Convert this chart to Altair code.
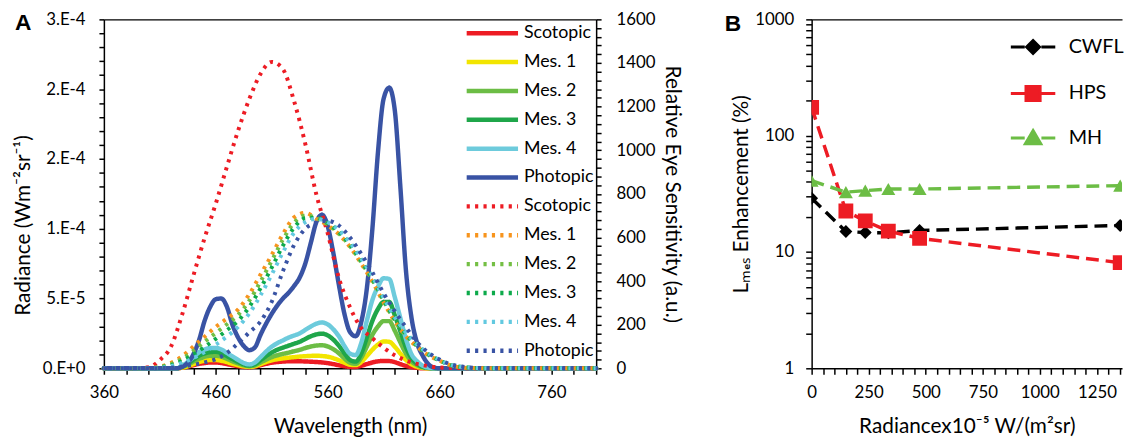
import json
import altair as alt
import pandas as pd

# ---------------- Panel A data ----------------
SERIES = ["Scotopic", "Mes. 1", "Mes. 2", "Mes. 3", "Mes. 4", "Photopic"]
SOLID_COLORS = ["#ED1C24", "#F2E500", "#6CBD45", "#1FA64A", "#6DCBDC", "#3953A4"]
DOTTED_COLORS = ["#ED1C24", "#F7941D", "#74BF44", "#0DAA4B", "#62C9E0", "#3953A4"]

NM_SOLID = [360, 400, 420, 425, 430, 435, 440, 445, 450, 455, 460, 465, 470, 475, 480,
            485, 490, 495, 500, 505, 510, 515, 520, 525, 530, 535, 540, 545, 550, 555,
            560, 565, 570, 575, 580, 585, 590, 595, 600, 605, 610, 615, 620, 625, 630,
            635, 640, 645, 650, 655, 660, 665, 670, 680, 700, 800]

# radiance in units of 1e-5 W m-2 sr-1
RAD_SCOTOPIC = [0, 0, 0,
                0, 0.05, 0.12, 0.22, 0.32, 0.38, 0.42, 0.42, 0.38, 0.30,
                0.22, 0.15, 0.10, 0.08, 0.12, 0.22, 0.32, 0.40, 0.45, 0.48,
                0.50, 0.50, 0.50, 0.49, 0.47, 0.45, 0.42, 0.37, 0.30, 0.22,
                0.15, 0.10, 0.10, 0.18, 0.30, 0.42, 0.50, 0.53, 0.52, 0.44,
                0.30, 0.17, 0.08, 0.03, 0, 0, 0, 0, 0, 0,
                0, 0, 0]
RAD_MES1 = [0, 0, 0,
            0, 0.05, 0.15, 0.30, 0.44, 0.54, 0.59, 0.59, 0.54, 0.44,
            0.32, 0.22, 0.14, 0.10, 0.15, 0.30, 0.45, 0.57, 0.65, 0.71,
            0.76, 0.80, 0.84, 0.87, 0.89, 0.90, 0.88, 0.83, 0.73, 0.58,
            0.40, 0.26, 0.23, 0.45, 0.88, 1.33, 1.70, 1.92, 1.90, 1.55,
            1.06, 0.60, 0.28, 0.11, 0.03, 0, 0, 0, 0, 0,
            0, 0, 0]
RAD_MES2 = [0, 0, 0,
            0, 0.10, 0.25, 0.48, 0.68, 0.82, 0.90, 0.90, 0.83, 0.68,
            0.50, 0.35, 0.22, 0.15, 0.22, 0.42, 0.62, 0.80, 0.93, 1.03,
            1.12, 1.22, 1.32, 1.45, 1.56, 1.63, 1.65, 1.57, 1.37, 1.08,
            0.70, 0.40, 0.32, 0.75, 1.55, 2.40, 3.00, 3.38, 3.38, 2.70,
            1.85, 1.05, 0.50, 0.22, 0.07, 0.02, 0, 0, 0, 0,
            0, 0, 0]
RAD_MES3 = [0, 0, 0,
            0, 0.15, 0.35, 0.62, 0.90, 1.07, 1.16, 1.18, 1.08, 0.88,
            0.66, 0.46, 0.29, 0.20, 0.30, 0.58, 0.88, 1.13, 1.33, 1.48,
            1.62, 1.76, 1.90, 2.10, 2.30, 2.43, 2.48, 2.36, 2.06, 1.62,
            1.08, 0.60, 0.48, 1.05, 2.20, 3.40, 4.25, 4.75, 4.75, 3.80,
            2.65, 1.50, 0.72, 0.32, 0.11, 0.03, 0, 0, 0, 0,
            0, 0, 0]
RAD_MES4 = [0, 0, 0,
            0, 0.20, 0.45, 0.80, 1.15, 1.35, 1.45, 1.46, 1.35, 1.10,
            0.85, 0.60, 0.38, 0.28, 0.42, 0.80, 1.20, 1.55, 1.80, 2.00,
            2.20, 2.35, 2.50, 2.75, 3.00, 3.20, 3.28, 3.15, 2.80, 2.30,
            1.60, 1.05, 0.95, 1.80, 3.40, 4.90, 5.85, 6.45, 6.40, 5.10,
            3.60, 2.10, 1.00, 0.50, 0.18, 0.05, 0, 0, 0, 0,
            0, 0, 0]
RAD_PHOTOPIC = [0, 0, 0,
                0, 0.10, 0.40, 1.00, 2.00, 3.40, 4.40, 4.95, 5.00, 4.40,
                3.10, 2.20, 1.60, 1.30, 1.50, 2.40, 3.20, 3.90, 4.50, 5.00,
                5.40, 5.90, 6.50, 7.50, 9.00, 10.50, 11.00, 10.20, 8.30, 6.00,
                3.90, 2.60, 2.30, 3.30, 5.70, 10.00, 15.50, 19.30, 20.10, 18.50,
                13.00, 7.00, 3.60, 1.80, 0.90, 0.30, 0.05, 0, 0, 0,
                0, 0, 0]
RADIANCE = [RAD_SCOTOPIC, RAD_MES1, RAD_MES2, RAD_MES3, RAD_MES4, RAD_PHOTOPIC]

NM_DOT = [360, 370, 380, 390, 400, 410, 420, 430, 440, 450, 460, 470, 480, 490, 500,
          510, 520, 530, 540, 550, 560, 570, 580, 590, 600, 610, 620, 630, 640, 650,
          660, 670, 680, 690, 700, 710, 720, 730, 740, 750, 760, 770, 780, 790, 800]

SENS_SCOTOPIC = [0, 0, 0, 1, 5, 38, 100, 247, 425, 597,
                 755, 925, 1090, 1235, 1350, 1405, 1372, 1225, 1030, 795,
                 620, 415, 280, 185, 138, 95, 60, 36, 20, 10,
                 4, 2, 1, 0, 0, 0, 0, 0, 0, 0,
                 0, 0, 0, 0, 0]
SENS_MES1 = [0, 0, 0, 0, 2, 8, 25, 55, 100, 145,
             190, 228, 270, 340, 430, 520, 615, 692, 713, 685,
             655, 615, 556, 480, 397, 302, 215, 147, 98, 60,
             35, 13, 4, 1, 0, 0, 0, 0, 0, 0,
             0, 0, 0, 0, 0]
SENS_MES2 = [0, 0, 0, 0, 1.5, 6, 19, 44, 80, 122,
             162, 202, 245, 310, 398, 493, 590, 668, 700, 690,
             660, 618, 560, 486, 404, 308, 220, 152, 101, 62,
             36, 14, 5, 2, 0, 0, 0, 0, 0, 0,
             0, 0, 0, 0, 0]
SENS_MES3 = [0, 0, 0, 0, 1, 4, 14, 34, 63, 98,
             135, 175, 218, 282, 367, 462, 562, 645, 688, 690,
             666, 626, 568, 494, 412, 316, 227, 158, 105, 65,
             37, 15, 6, 2, 0, 0, 0, 0, 0, 0,
             0, 0, 0, 0, 0]
SENS_MES4 = [0, 0, 0, 0, 0.7, 3, 10, 25, 47, 75,
             108, 146, 190, 252, 335, 430, 532, 622, 670, 685,
             670, 634, 577, 503, 421, 324, 235, 164, 109, 68,
             38, 16, 6, 2, 0, 0, 0, 0, 0, 0,
             0, 0, 0, 0, 0]
SENS_PHOTOPIC = [0, 0, 0, 0, 0.3, 1, 3, 8, 16, 27,
                 42, 70, 115, 165, 215, 305, 445, 565, 640, 668,
                 676, 655, 600, 525, 440, 345, 262, 188, 120, 72,
                 40, 18, 8, 3, 1, 0, 0, 0, 0, 0,
                 0, 0, 0, 0, 0]
SENSITIVITY = [SENS_SCOTOPIC, SENS_MES1, SENS_MES2, SENS_MES3, SENS_MES4, SENS_PHOTOPIC]

LEFT_TICK_LABELS = ["0.E+0", "5.E-5", "1.E-4", "2.E-4", "2.E-4", "3.E-4"]

# ---------------- Panel B data ----------------
LAMPS = ["CWFL", "HPS", "MH"]
LAMP_COLORS = ["#000000", "#ED1C24", "#6CBD45"]
LAMP_SHAPES = ["diamond", "square", "triangle-up"]
LAMP_SIZES = [170, 225, 200]
RADIANCE_B = [0, 150, 235, 336, 473, 1352]
ENH_CWFL = [29, 15, 14.7, 14.6, 15.3, 16.9]
ENH_HPS = [175, 22.5, 18.5, 15.1, 13.1, 8.1]
ENH_MH = [41, 32.7, 33.7, 34.8, 34.8, 37.2]
ENHANCEMENT = [ENH_CWFL, ENH_HPS, ENH_MH]

# ---------------- build tables ----------------
solid_keys = ["S|" + s for s in SERIES]
dot_keys = ["D|" + s for s in SERIES]
KEYS = solid_keys + dot_keys
COLORS = SOLID_COLORS + DOTTED_COLORS
DASHES = [[1, 0]] * 6 + [[3.2, 5.3]] * 6

rows = []
for key, vals in zip(solid_keys, RADIANCE):
    for nm, v in zip(NM_SOLID, vals):
        rows.append({"key": key, "nm": nm, "rad": v})
df_solid = pd.DataFrame(rows)

rows = []
for key, vals in zip(dot_keys, SENSITIVITY):
    for nm, v in zip(NM_DOT, vals):
        rows.append({"key": key, "nm": nm, "sens": v})
df_dot = pd.DataFrame(rows)

rows = []
for lamp, vals in zip(LAMPS, ENHANCEMENT):
    for x, v in zip(RADIANCE_B, vals):
        rows.append({"lamp": lamp, "bx": x, "enh": v})
df_b = pd.DataFrame(rows)

FONT = "Lato"

leg_a = alt.Legend(
    title=None, orient="none", legendX=384, legendY=5,
    symbolType="M-5,0H5", symbolSize=108, symbolStrokeWidth=4.5,
    labelFont=FONT, labelFontSize=18, labelColor="#000", labelOffset=23,
    rowPadding=11.2, padding=0, labelExpr="substring(datum.label, 2)",
)

color_a = alt.Color("key:N", scale=alt.Scale(domain=KEYS, range=COLORS), legend=leg_a)
dash_a = alt.StrokeDash("key:N", scale=alt.Scale(domain=KEYS, range=DASHES), legend=leg_a)

x_scale_a = alt.Scale(domain=[360, 800], nice=False, zero=False)

left_expr = ("datum.value % 5 == 0 ? " + json.dumps(LEFT_TICK_LABELS).replace('"', "'")
             + "[round(datum.value / 5)] : ''")

solid = alt.Chart(df_solid).mark_line(
    strokeWidth=4.5, interpolate="monotone", strokeCap="round", strokeJoin="round"
).encode(
    x=alt.X("nm:Q", scale=x_scale_a, axis=alt.Axis(
        orient="bottom", values=list(range(360, 801, 20)),
        labelExpr="(datum.value - 360) % 100 == 0 ? datum.label : ''",
        title="Wavelength (nm)", tickSize=6, labelPadding=11, titlePadding=15,
        labelFlush=False, labelOverlap=False)),
    y=alt.Y("rad:Q", scale=alt.Scale(domain=[0, 25], nice=False), axis=alt.Axis(
        orient="left", values=list(range(0, 26)), labelExpr=left_expr,
        title="Radiance (Wm⁻²sr⁻¹)", tickSize=5, labelPadding=14, titlePadding=9,
        titleY=208, labelFlush=False, labelOverlap=False)),
    color=color_a,
    strokeDash=dash_a,
)

dotted = alt.Chart(df_dot).mark_line(
    strokeWidth=4, interpolate="monotone", strokeCap="butt"
).encode(
    x=alt.X("nm:Q", scale=x_scale_a, axis=alt.Axis(
        orient="top", labels=False, ticks=False, title=None, domain=True)),
    y=alt.Y("sens:Q", scale=alt.Scale(domain=[0, 1600], nice=False), axis=alt.Axis(
        orient="right", values=list(range(0, 1601, 40)), format="d",
        labelExpr="datum.value % 200 == 0 ? datum.label : ''",
        title="Relative Eye Sensitivity (a.u.)", tickSize=5, labelPadding=15,
        titlePadding=7, labelFlush=False, labelOverlap=False)),
    color=color_a,
    strokeDash=dash_a,
)

label_a = alt.Chart(pd.DataFrame({"t": ["A"]})).mark_text(
    font="Liberation Sans", fontWeight="bold", fontSize=23, align="left",
    baseline="alphabetic", color="#000"
).encode(text="t:N", x=alt.value(-90), y=alt.value(11))

panel_a = alt.layer(solid, dotted, label_a).resolve_scale(
    y="independent"
).resolve_axis(x="independent", y="independent").properties(width=498, height=353)

# ---------------- Panel B ----------------
x_scale_b = alt.Scale(domain=[0, 1360], nice=False, zero=False)
LOG_TICKS = [1, 2, 3, 4, 5, 6, 7, 8, 9, 10, 20, 30, 40, 50, 60, 70, 80, 90,
             100, 200, 300, 400, 500, 600, 700, 800, 900, 1000]


def y_scale_b():
    return alt.Scale(type="log", domain=[1, 1000], nice=False)


lines_b = alt.Chart(df_b).mark_line(strokeDash=[13, 7], strokeWidth=3.5, clip=True).encode(
    x=alt.X("bx:Q", scale=x_scale_b, axis=alt.Axis(
        orient="bottom", values=list(range(0, 1351, 50)), format="d",
        labelExpr="datum.value % 250 == 0 ? datum.label : ''",
        title="Radiancex10⁻⁵ W/(m²sr)", tickSize=6, labelPadding=11, titlePadding=15,
        labelFlush=False, labelOverlap=False)),
    y=alt.Y("enh:Q", scale=y_scale_b(), axis=alt.Axis(
        orient="left", values=LOG_TICKS,
        labelExpr="(datum.value == 1 || datum.value == 10 || datum.value == 100 || datum.value == 1000) ? format(datum.value, 'd') : ''",
        title="Lₘₑₛ Enhancement (%)", tickSize=6, labelPadding=12, titlePadding=3,
        labelFlush=False, labelOverlap=False)),
    color=alt.Color("lamp:N", scale=alt.Scale(domain=LAMPS, range=LAMP_COLORS), legend=None),
)

# legend symbols: dash line with the marker in the middle
PATHS = [
    "M-3.46,0H-1.3M1.3,0H3.46M0,-1L1,0L0,1L-1,0Z",
    "M-3.46,0H-1.3M1.3,0H3.46M-1.1,-1.1H1.1V1.1H-1.1Z",
    "M-3.46,0H-1.3M1.3,0H3.46M0,-1.15L1.2,0.9H-1.2Z",
]
LEGEND_Y = [18, 65, 110]

point_layers = []
for i, (lamp, col, shp, sz) in enumerate(zip(LAMPS, LAMP_COLORS, LAMP_SHAPES, LAMP_SIZES)):
    xax = alt.Axis(orient="top", labels=False, ticks=False, title=None, domain=True) if i == 0 else None
    leg = alt.Legend(
        title=None, orient="none", legendX=214, legendY=LEGEND_Y[i],
        symbolType=PATHS[i], symbolSize=169, symbolStrokeWidth=3,
        symbolStrokeColor=col, symbolFillColor=col,
        labelFont=FONT, labelFontSize=20, labelColor="#000", labelOffset=26, padding=0,
    )
    point_layers.append(
        alt.Chart(df_b).transform_filter(alt.datum.lamp == lamp).mark_point(
            shape=shp, size=sz, filled=True, opacity=1, clip=True
        ).encode(
            x=alt.X("bx:Q", scale=x_scale_b, axis=xax),
            y=alt.Y("enh:Q", scale=y_scale_b(), axis=None),
            color=alt.Color("lamp:N", scale=alt.Scale(domain=[lamp], range=[col]), legend=leg),
        )
    )

label_b = alt.Chart(pd.DataFrame({"t": ["B"]})).mark_text(
    font="Liberation Sans", fontWeight="bold", fontSize=23, align="left",
    baseline="alphabetic", color="#000"
).encode(text="t:N", x=alt.value(-88), y=alt.value(12))

panel_b = alt.layer(lines_b, *point_layers, label_b).resolve_scale(
    y="independent", color="independent"
).resolve_axis(x="independent", y="independent").resolve_legend(
    color="independent"
).properties(width=314, height=353)

chart = alt.hconcat(panel_a, panel_b, spacing=42).resolve_scale(
    color="independent", strokeDash="independent",
).resolve_legend(
    color="independent", strokeDash="independent",
).properties(
    padding={"left": 4, "top": 0, "right": 0, "bottom": 0}
).configure_view(stroke=None).configure_axis(
    domainColor="#000", domainWidth=1.5, tickColor="#000", tickWidth=1.5,
    labelFont=FONT, labelFontSize=17, labelColor="#000",
    titleFont=FONT, titleFontSize=21, titleFontWeight="normal", titleColor="#000",
    grid=False,
)

chart.save("out.html", embed_options={"renderer": "svg", "actions": False})
